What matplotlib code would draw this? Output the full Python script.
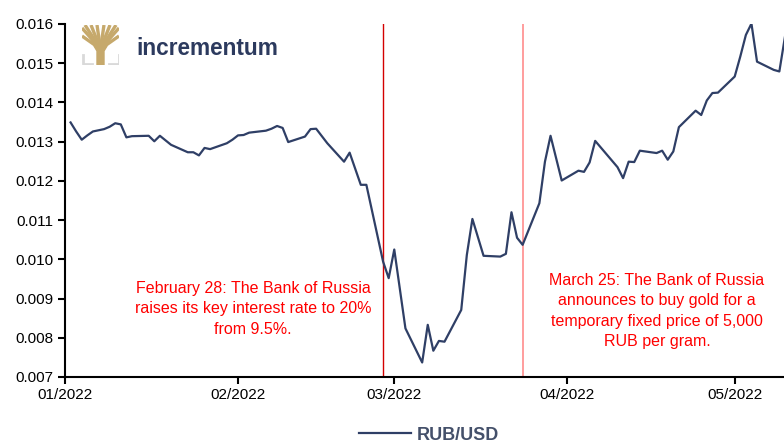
import matplotlib
matplotlib.use("Agg")
import matplotlib.pyplot as plt
import matplotlib.dates as mdates
import numpy as np
import pandas as pd

plt.rcParams['font.family'] = ['Liberation Sans', 'DejaVu Sans']

# RUB/USD series
dates = [
    "2022-01-02", "2022-01-03", "2022-01-04", "2022-01-05", "2022-01-06",
    "2022-01-08", "2022-01-09", "2022-01-10", "2022-01-11", "2022-01-12",
    "2022-01-13", "2022-01-16", "2022-01-17", "2022-01-18", "2022-01-20",
    "2022-01-23", "2022-01-24", "2022-01-25", "2022-01-26", "2022-01-27",
    "2022-01-30", "2022-01-31", "2022-02-01", "2022-02-02", "2022-02-03",
    "2022-02-06", "2022-02-07", "2022-02-08", "2022-02-09", "2022-02-10",
    "2022-02-13", "2022-02-14", "2022-02-15", "2022-02-17", "2022-02-20",
    "2022-02-21", "2022-02-23", "2022-02-24", "2022-02-27", "2022-02-28",
    "2022-03-01", "2022-03-03", "2022-03-06", "2022-03-07", "2022-03-08",
    "2022-03-09", "2022-03-10", "2022-03-13", "2022-03-14", "2022-03-15",
    "2022-03-17", "2022-03-20", "2022-03-21", "2022-03-22", "2022-03-23",
    "2022-03-24", "2022-03-27", "2022-03-28", "2022-03-29", "2022-03-31",
    "2022-04-03", "2022-04-04", "2022-04-05", "2022-04-06", "2022-04-10",
    "2022-04-11", "2022-04-12", "2022-04-13", "2022-04-14", "2022-04-17",
    "2022-04-18", "2022-04-19", "2022-04-20", "2022-04-21", "2022-04-24",
    "2022-04-25", "2022-04-26", "2022-04-27", "2022-04-28", "2022-05-01",
    "2022-05-02", "2022-05-03", "2022-05-04", "2022-05-05", "2022-05-08",
    "2022-05-09", "2022-05-10",
]
rub_usd = [
    0.01349, 0.01326, 0.01305, 0.01316, 0.01326,
    0.01332, 0.01338, 0.01347, 0.01344, 0.01311,
    0.01314, 0.01315, 0.01301, 0.01315, 0.01292,
    0.01273, 0.01273, 0.01265, 0.01284, 0.01281,
    0.01296, 0.01305, 0.01316, 0.01317, 0.01323,
    0.01328, 0.01333, 0.01340, 0.01335, 0.01299,
    0.01313, 0.01332, 0.01333, 0.01296, 0.01249,
    0.01272, 0.01190, 0.01190, 0.00994, 0.00952,
    0.01025, 0.00824, 0.00737, 0.00833, 0.00767,
    0.00792, 0.00790, 0.00871, 0.01011, 0.01103,
    0.01009, 0.01007, 0.01014, 0.01120, 0.01055,
    0.01037, 0.01143, 0.01249, 0.01315, 0.01201,
    0.01226, 0.01223, 0.01247, 0.01302, 0.01235,
    0.01207, 0.01249, 0.01248, 0.01277, 0.01271,
    0.01277, 0.01254, 0.01275, 0.01337, 0.01379,
    0.01368, 0.01405, 0.01424, 0.01425, 0.01466,
    0.01517, 0.01572, 0.01601, 0.01504, 0.01483,
    0.01479, 0.01567,
]

event_dates = ["2022-02-27", "2022-03-24"]
event_texts = [
    "February 28: The Bank of Russia\nraises its key interest rate to 20%\nfrom 9.5%.",
    "March 25: The Bank of Russia\nannounces to buy gold for a\ntemporary fixed price of 5,000\nRUB per gram.",
]

x = pd.to_datetime(dates)
W, H = 784, 442
fig = plt.figure(figsize=(W / 100, H / 100), dpi=100)
ax = fig.add_axes([65 / W, 1 - 377 / H, 1 - 65 / W, (377 - 24) / H])

ax.plot(x, rub_usd, color="#2f3f66", lw=1.6, label="RUB/USD", zorder=3)
ax.axvline(pd.Timestamp(event_dates[0]), color="#d40000", lw=1.0, zorder=2)
ax.axvline(pd.Timestamp(event_dates[1]), color="#ff8c8c", lw=1.2, zorder=2)

ax.set_xlim(pd.Timestamp("2022-01-01"), pd.Timestamp("2022-05-09 20:00"))
ax.set_ylim(0.007, 0.016)
ax.set_yticks(np.arange(0.007, 0.0161, 0.001))
ax.yaxis.set_major_formatter(plt.FormatStrFormatter("%.3f"))
ax.xaxis.set_major_locator(mdates.MonthLocator())
ax.xaxis.set_major_formatter(mdates.DateFormatter("%m/%Y"))

for s in ("top", "right"):
    ax.spines[s].set_visible(False)
for s in ("left", "bottom"):
    ax.spines[s].set_linewidth(1.5)
ax.tick_params(axis="both", labelsize=11, width=1.5, length=5, colors="black")
ax.tick_params(axis="x", pad=3)

fig.text(253 / W, 1 - 309 / H, event_texts[0], color="#ff0000", fontsize=11.5,
         ha="center", va="center", linespacing=1.42)
fig.text(657 / W, 1 - 311 / H, event_texts[1], color="#ff0000", fontsize=11.5,
         ha="center", va="center", linespacing=1.42)

leg = fig.legend(loc="center", bbox_to_anchor=(429 / W, 1 - 435 / H),
                 frameon=False, handlelength=2.9, handletextpad=0.35,
                 prop={"size": 13, "weight": "bold"})
for t in leg.get_texts():
    t.set_color("#44506a")

# logo
gold = "#c6a96c"
lax = fig.add_axes([82 / W, 1 - 65 / H, 37 / W, 40 / H])
lax.set_xlim(0, 37)
lax.set_ylim(0, 40)
lax.axis("off")
lax.plot([0.5, 0.5, 10], [10, 1.5, 1.5], color="#d9d9d9", lw=2)
lax.plot([36.5, 36.5, 27], [10, 1.5, 1.5], color="#d9d9d9", lw=2)
lax.fill([15, 22, 22, 25, 12, 15], [0, 0, 14, 19, 19, 14], color=gold)
for bx, by in [(0, 37), (0, 29), (3, 40), (9, 40), (15, 40),
               (22, 40), (28, 40), (34, 40), (37, 37), (37, 29)]:
    lax.plot([18.5, bx], [16, by], color=gold, lw=2.4, solid_capstyle="butt")
fig.text(136 / W, 1 - 55 / H, "incrementum", color="#2c3a5e", fontsize=16.3,
         fontweight="bold", va="baseline", ha="left")

fig.savefig("out.png", dpi=100)
